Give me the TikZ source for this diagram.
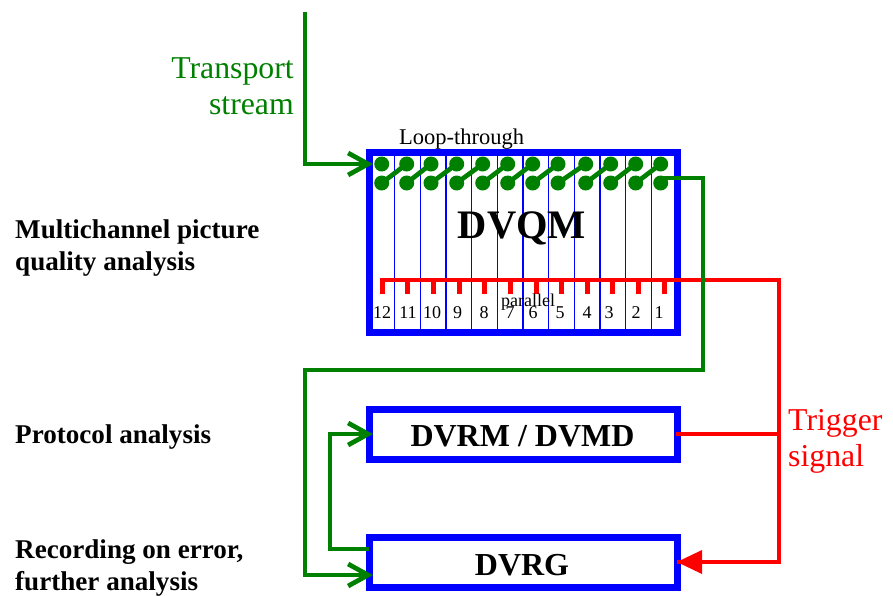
\documentclass[tikz,border=0pt]{standalone}
\usepackage{fontspec}
\setmainfont{Liberation Serif}
\usetikzlibrary{arrows.meta}
\definecolor{tvgreen}{RGB}{0,128,0}
\tikzset{
  x=1pt,y=-1pt,
  boxed/.style={draw=blue,line width=7pt,rectangle,outer sep=0pt,inner sep=0pt,fill=white},
  divider/.style={draw=blue,line width=1.5pt},
  dot/.style={circle,fill=tvgreen,minimum size=15pt,inner sep=0pt,outer sep=0pt},
  link/.style={draw=tvgreen,line width=4.7pt},
  feed/.style={link,-{Straight Barb[length=20pt,width=22pt,line width=4.7pt]}},
  trig/.style={draw=red,line width=4.5pt},
  tick/.style={draw=red,line width=5pt},
  lab/.style={anchor=base west,inner sep=0pt,font=\fontsize{27.1}{27}\selectfont\bfseries},
  big/.style={anchor=base east,inner sep=0pt,text=tvgreen,font=\fontsize{31.8}{32}\selectfont},
  sig/.style={anchor=base west,inner sep=0pt,text=red,font=\fontsize{31.8}{32}\selectfont},
  title/.style={anchor=base,inner sep=0pt,font=\fontsize{32}{32}\selectfont\bfseries},
  small/.style={anchor=base,inner sep=0pt,font=\fontsize{18}{18}\selectfont},
}
\begin{document}
\begin{tikzpicture}
\useasboundingbox (0,0) rectangle (893,595);
% boxes
\node[boxed,minimum width=308pt,minimum height=180pt] (dvqm) at (523,242.5) {};
\node[boxed,minimum width=308pt,minimum height=50.5pt] (dvrm) at (523,434.25) {};
\node[boxed,minimum width=308pt,minimum height=50pt] (dvrg) at (523,562) {};
% dividers
\foreach \x in {394.7,420.3,446,471.7,497.3,523,548.7,574.3,600,625.7,651.3}
  \draw[divider] (\x,156) -- (\x,329);
% loop-through dots
\foreach \i/\x in {12/381.7,11/406.7,10/431,9/456.7,8/482.7,7/507.7,6/532.7,5/558,4/585.7,3/610.7,2/635.7,1/660.7}{
  \node[dot] (t\i) at (\x,164) {};
  \node[dot] (b\i) at (\x,183) {};
}
\foreach \a/\b in {12/11,11/10,10/9,9/8,8/7,7/6,6/5,5/4,4/3,3/2,2/1}
  \draw[link] (b\a.center) -- (t\b.center);
% trigger bus
\coordinate (busL) at (380,280);
\coordinate (busR) at (779,280);
\coordinate (busJ) at (779,434);
\coordinate (busB) at (779,562);
\foreach \x in {382.3,407.3,433.3,459.3,484.3,510.3,536.3,561.7,587.3,612.3,638.3,664.3}
  \draw[tick] (\x,278) -- (\x,294);
\draw[trig,line join=miter] (busL) -- (busR) -- (busB) -- (dvrg.east);
\fill[red] (677,562) -- (702,550) -- (702,574) -- cycle;
\coordinate (rmE) at (676,434);
\draw[trig] (rmE) -- (busJ);
% transport stream
\coordinate (tsIn) at (305,12);
\coordinate (tsC) at (305,164);
\coordinate (tsT) at (373,164);
\draw[feed] (tsIn) -- (tsC) -- (tsT);
% loop output
\coordinate (o1) at (660,178);
\coordinate (o2) at (703,178);
\coordinate (o3) at (703,370);
\coordinate (o4) at (305,370);
\coordinate (o5) at (305,575);
\coordinate (gIn) at (373,575);
\draw[feed] (o1) -- (o2) -- (o3) -- (o4) -- (o5) -- (gIn);
% DVRG to DVRM
\coordinate (gOut) at (369,549);
\coordinate (g2) at (330,549);
\coordinate (g3) at (330,434);
\coordinate (mIn) at (373,434);
\draw[feed] (gOut) -- (g2) -- (g3) -- (mIn);
% texts
\node[anchor=base,inner sep=0pt,font=\fontsize{40.5}{40}\selectfont\bfseries] (tq) at (522,238) {DVQM};
\node[title] (tm) at (522.5,446) {DVRM / DVMD};
\node[title] (tg) at (522,575) {DVRG};
\node[big] (ts1) at (294,78) {Transport};
\node[big] (ts2) at (294,114) {stream};
\node[sig] (tr1) at (788,430) {Trigger};
\node[sig] (tr2) at (788,466) {signal};
\node[lab] (l1) at (15,238) {Multichannel picture};
\node[lab] (l2) at (15,270) {quality analysis};
\node[lab] (l3) at (15,443) {Protocol analysis};
\node[lab] (l4) at (15,558) {Recording on error,};
\node[lab] (l5) at (15,590) {further analysis};
\node[anchor=base,inner sep=0pt,font=\fontsize{22.5}{22}\selectfont] (lt) at (461.5,144) {Loop-through};
\node[small] (par) at (528,306) {parallel};
\foreach \n/\x in {12/382,11/408,10/432,9/457.7,8/484,7/510,6/533,5/560,4/587,3/609,2/636,1/659}
  \node[small] (n\n) at (\x,318) {\n};
\end{tikzpicture}
\end{document}
